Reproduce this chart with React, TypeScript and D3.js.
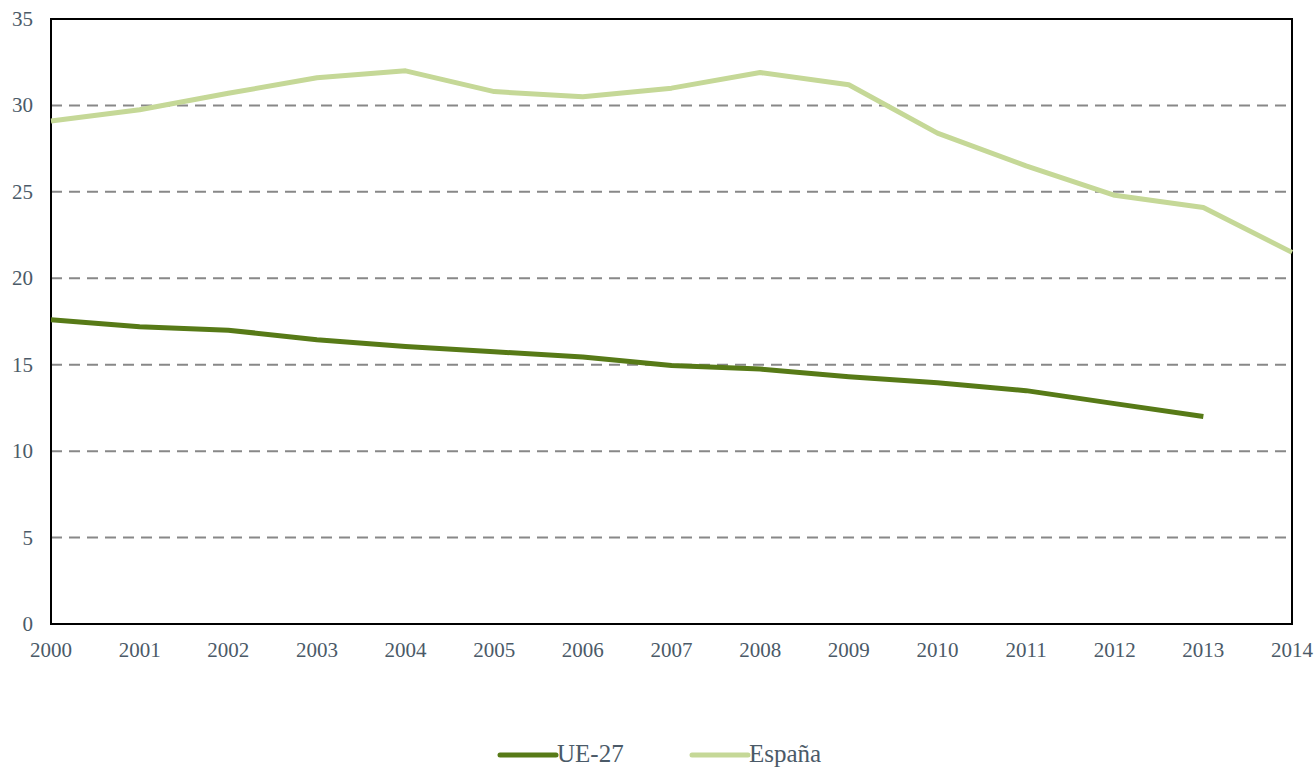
import React, { useRef, useEffect } from "react";
import { select, scaleLinear, line, range } from "d3";

const years = range(2000, 2015);
const espana = [29.1, 29.75, 30.7, 31.6, 32.0, 30.8, 30.5, 31.0, 31.9, 31.2, 28.4, 26.5, 24.8, 24.1, 21.5];
const ue27 = [17.6, 17.2, 17.0, 16.45, 16.05, 15.75, 15.45, 14.95, 14.75, 14.3, 13.95, 13.5, 12.75, 12.0];
const yTicks = [0, 5, 10, 15, 20, 25, 30, 35];

const series = [
  { name: "UE-27", values: ue27, color: "#577a17" },
  { name: "España", values: espana, color: "#c5d897" },
];

const W = 1316, H = 769;
const margin = { left: 51, right: 24, top: 19, bottom: 145 };
const textColor = "#4b5a68";
const font = "'Liberation Serif', 'Times New Roman', serif";

function App() {
  const svgRef = useRef<SVGSVGElement>(null);

  useEffect(() => {
    const svg = select(svgRef.current);
    svg.selectAll("*").remove();

    const x = scaleLinear().domain([2000, 2014]).range([margin.left, W - margin.right]);
    const y = scaleLinear().domain([0, 35]).range([H - margin.bottom, margin.top]);

    // gridlines
    svg.selectAll(".grid")
      .data(yTicks.filter(t => t > 0 && t < 35))
      .join("line")
      .attr("class", "grid")
      .attr("x1", x(2000)).attr("x2", x(2014))
      .attr("y1", d => y(d)).attr("y2", d => y(d))
      .attr("stroke", "#888")
      .attr("stroke-width", 2)
      .attr("stroke-dasharray", "11,7");

    // plot border
    svg.append("rect")
      .attr("x", x(2000)).attr("y", y(35))
      .attr("width", x(2014) - x(2000)).attr("height", y(0) - y(35))
      .attr("fill", "none").attr("stroke", "#000").attr("stroke-width", 2);

    // y labels
    svg.selectAll(".ylab")
      .data(yTicks)
      .join("text")
      .attr("class", "ylab")
      .attr("x", 33).attr("y", d => y(d) + 7)
      .attr("text-anchor", "end")
      .attr("font-family", font).attr("font-size", 21)
      .attr("fill", textColor)
      .text(d => d);

    // x labels
    svg.selectAll(".xlab")
      .data(years)
      .join("text")
      .attr("class", "xlab")
      .attr("x", d => x(d)).attr("y", 657)
      .attr("text-anchor", "middle")
      .attr("font-family", font).attr("font-size", 21)
      .attr("fill", textColor)
      .text(d => d);

    // lines
    const lineGen = line<number>()
      .x((d, i) => x(years[i]))
      .y(d => y(d));

    series.forEach(s => {
      svg.append("path")
        .datum(s.values)
        .attr("d", lineGen)
        .attr("fill", "none")
        .attr("stroke", s.color)
        .attr("stroke-width", 5)
        .attr("stroke-linejoin", "round");
    });

    // legend
    const legendX = [500, 692];
    series.forEach((s, i) => {
      const g = svg.append("g").attr("transform", `translate(${legendX[i]},755)`);
      g.append("line")
        .attr("x1", 0).attr("x2", 56)
        .attr("stroke", s.color).attr("stroke-width", 5)
        .attr("stroke-linecap", "round");
      g.append("text")
        .attr("x", 57).attr("y", 7)
        .attr("font-family", font).attr("font-size", 25)
        .attr("fill", textColor)
        .text(s.name);
    });
  }, []);

  return (
    <svg ref={svgRef} width={W} height={H}
      style={{ position: "absolute", left: 0, top: 0, background: "#fff" }} />
  );
}

export default App;
